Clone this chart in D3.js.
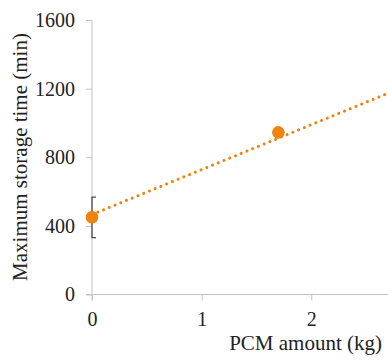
<!DOCTYPE html>
<html>
<head>
<meta charset="utf-8">
<script src="https://cdn.jsdelivr.net/npm/d3@7"></script>
<style>
  html, body { margin: 0; padding: 0; background: #fff; }
  svg { display: block; }
</style>
</head>
<body>
<div class="chart"></div>
<script>
// measured points (mean, with error bar where there is one)
var pcmAmount = [0, 1.7];
var storageTime = [450, 945];
var errorPlus = [118, null];
var errorMinus = [118, null];
// linear trendline, as drawn in the picture (two end points)
var trendX = [0, 2.7];
var trendY = [466, 1173];
var xTicks = [0, 1, 2];
var yTicks = [0, 400, 800, 1200, 1600];

var width = 388,
  height = 360;

var orange = "#f0830f";
var axisGrey = "#c3c3c3";
var serif = "'Liberation Serif', 'Times New Roman', serif";

var svg = d3.select(".chart").append("svg")
  .attr("width", width).attr("height", height);

var x = d3.scaleLinear().domain([0, 2.7]).range([92, 388]);
var y = d3.scaleLinear().domain([0, 1600]).range([294.5, 20]);

// y axis
var yAxis = svg.append("g")
  .attr("transform", "translate(" + x(0) + ",0)")
  .call(d3.axisLeft(y).tickValues(yTicks).tickSize(6).tickPadding(11).tickFormat(d3.format("d")));
yAxis.attr("font-family", serif);
yAxis.select(".domain").attr("stroke", axisGrey).attr("d", "M0," + y(1600) + "V" + (y(0) + 6));
yAxis.selectAll(".tick line").attr("stroke", axisGrey);
yAxis.selectAll(".tick text")
  .attr("fill", "#222")
  .style("font-size", "20px")
  .style("font-family", serif);

// x axis
var xAxis = svg.append("g")
  .attr("transform", "translate(0," + y(0) + ")")
  .call(d3.axisBottom(x).tickValues(xTicks).tickSize(6).tickPadding(11).tickFormat(d3.format("d")));
xAxis.attr("font-family", serif);
xAxis.select(".domain").attr("stroke", axisGrey).attr("d", "M" + (x(0) - 6) + ",0H" + x(2.7));
xAxis.selectAll(".tick line").attr("stroke", axisGrey);
xAxis.selectAll(".tick text")
  .attr("fill", "#222")
  .style("font-size", "20px")
  .style("font-family", serif);

// axis titles
svg.append("text")
  .attr("transform", "translate(27,157) rotate(-90)")
  .attr("text-anchor", "middle")
  .style("font-size", "21px")
  .style("font-family", serif)
  .attr("fill", "#222")
  .text("Maximum storage time (min)");

svg.append("text")
  .attr("x", 382)
  .attr("y", 350)
  .attr("text-anchor", "end")
  .style("font-size", "21px")
  .style("font-family", serif)
  .attr("fill", "#222")
  .text("PCM amount (kg)");

// error bars
var points = pcmAmount.map(function (d, i) {
  return { x: d, y: storageTime[i], ep: errorPlus[i], em: errorMinus[i] };
});
var errs = svg.append("g").attr("stroke", "#4a4a4a").attr("stroke-width", 1.3).attr("fill", "none");
points.filter(function (d) { return d.ep != null; }).forEach(function (d) {
  var px = x(d.x);
  errs.append("path")
    .attr("d", "M" + (px + 4) + "," + y(d.y + d.ep) + "H" + px + "V" + y(d.y - d.em) + "H" + (px + 4));
});

// markers
svg.append("g").selectAll("circle")
  .data(points)
  .enter().append("circle")
  .attr("cx", function (d) { return x(d.x); })
  .attr("cy", function (d) { return y(d.y); })
  .attr("r", 6.3)
  .attr("fill", orange);

// dotted trendline
var line = d3.line()
  .x(function (d) { return x(d[0]); })
  .y(function (d) { return y(d[1]); });
svg.append("path")
  .datum(trendX.map(function (d, i) { return [d, trendY[i]]; }))
  .attr("d", line)
  .attr("fill", "none")
  .attr("stroke", orange)
  .attr("stroke-width", 3)
  .attr("stroke-linecap", "round")
  .attr("stroke-dasharray", "0.1,6.1");
</script>
</body>
</html>
